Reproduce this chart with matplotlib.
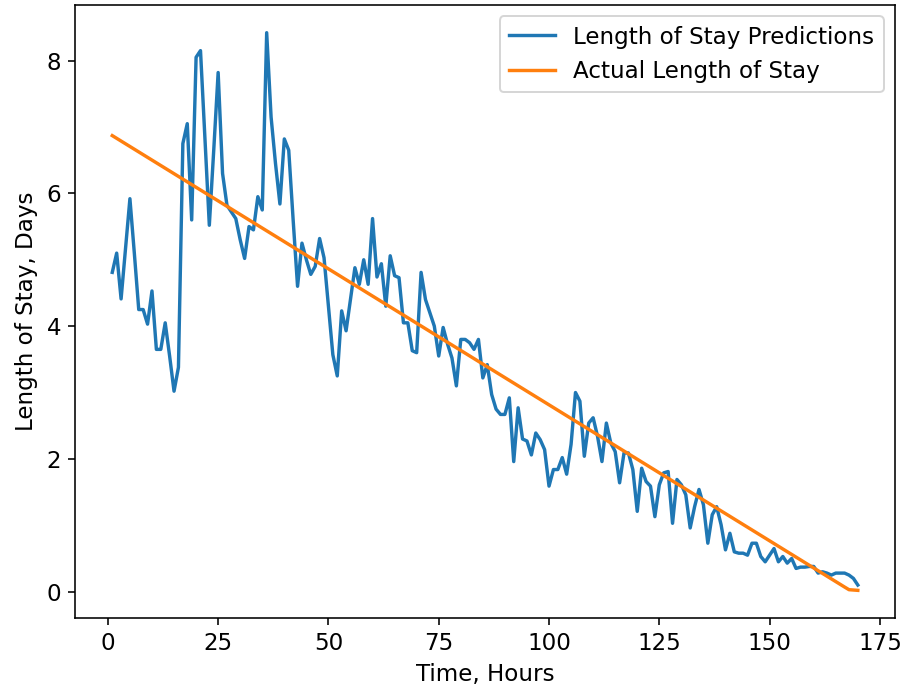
import matplotlib
matplotlib.use("Agg")
import matplotlib.pyplot as plt

## Hourly length-of-stay predictions (days)
pred_hours = list(range(1, 171))
pred_days = [
    4.81, 5.10, 4.41, 5.17, 5.92, 5.10, 4.25, 4.25, 4.03, 4.53,
    3.65, 3.65, 4.05, 3.55, 3.02, 3.38, 6.75, 7.05, 5.60, 8.05,
    8.15, 6.85, 5.52, 6.65, 7.82, 6.30, 5.82, 5.72, 5.62, 5.30,
    5.02, 5.50, 5.45, 5.95, 5.75, 8.42, 7.15, 6.45, 5.84, 6.82,
    6.65, 5.60, 4.60, 5.25, 5.00, 4.78, 4.90, 5.32, 5.03, 4.30,
    3.57, 3.25, 4.23, 3.93, 4.40, 4.88, 4.63, 5.00, 4.63, 5.62,
    4.74, 4.94, 4.30, 5.06, 4.76, 4.73, 4.05, 4.05, 3.63, 3.60,
    4.81, 4.40, 4.20, 4.00, 3.55, 3.98, 3.73, 3.52, 3.10, 3.80,
    3.80, 3.75, 3.65, 3.80, 3.22, 3.42, 2.97, 2.75, 2.67, 2.67,
    2.92, 1.96, 2.77, 2.30, 2.27, 2.06, 2.39, 2.29, 2.14, 1.59,
    1.84, 1.84, 2.02, 1.77, 2.22, 3.00, 2.87, 2.04, 2.54, 2.62,
    2.34, 1.96, 2.54, 2.24, 2.11, 1.64, 2.09, 2.09, 1.84, 1.21,
    1.86, 1.66, 1.59, 1.13, 1.61, 1.79, 1.81, 1.03, 1.69, 1.61,
    1.46, 0.96, 1.28, 1.54, 1.31, 0.73, 1.16, 1.28, 1.01, 0.63,
    0.88, 0.60, 0.58, 0.58, 0.55, 0.73, 0.73, 0.53, 0.45, 0.55,
    0.65, 0.45, 0.53, 0.43, 0.50, 0.35, 0.37, 0.37, 0.38, 0.38,
    0.28, 0.30, 0.28, 0.25, 0.28, 0.28, 0.28, 0.25, 0.20, 0.10,
]

## Actual length of stay: a straight countdown, given by its corner points
actual_hours = [1, 167, 168, 170]
actual_days = [6.87, 0.07, 0.03, 0.02]

plt.rcParams['font.size'] = 11.5
plt.rcParams['lines.linewidth'] = 1.7

fig = plt.figure(figsize=(919 / 144, 690 / 144), dpi=144)
ax = fig.add_axes([0.0816, 0.104, 0.8924, 0.889])

ax.plot(pred_hours, pred_days, label='Length of Stay Predictions')
ax.plot(actual_hours, actual_days, label='Actual Length of Stay')
ax.set_xlabel('Time, Hours')
ax.set_ylabel('Length of Stay, Days')
ax.legend(loc='upper right')

fig.savefig('out.png', dpi=144)
